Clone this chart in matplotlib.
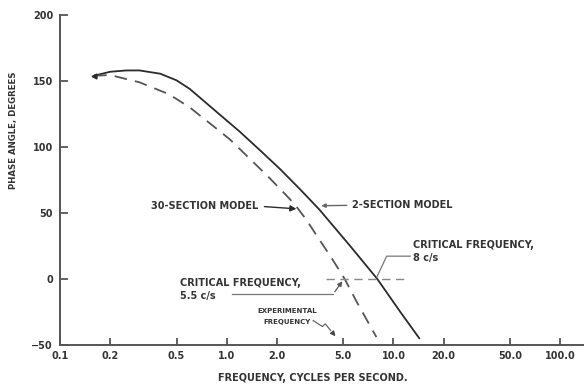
import matplotlib.pyplot as plt
import numpy as np

# 2-section model (solid)
freq_2sec = [0.16, 0.2, 0.25, 0.3, 0.4, 0.5, 0.6, 0.8, 1.2, 1.6, 2.1, 2.8, 3.6, 5.5, 8.0, 11.0, 14.3]
phase_2sec = [154, 157, 158, 158, 155.5, 150.5, 144, 130.5, 111.5, 97, 83, 67, 52.5, 25, 0, -25, -45]

# 30-section model (dashed)
freq_30sec = [0.16, 0.2, 0.3, 0.45, 0.6, 0.8, 1.05, 1.77, 2.1, 2.54, 3.0, 3.5, 4.2, 5.1, 6.0, 7.9]
phase_30sec = [154, 154.5, 149, 140, 130, 117.5, 105.5, 77.6, 68, 57, 45, 32, 17, 0, -17, -44]

xticks = [0.1, 0.2, 0.5, 1, 2, 5, 10, 20, 50, 100]
xtick_labels = ['0.1', '0.2', '0.5', '1.0', '2.0', '5.0', '10.0', '20.0', '50.0', '100.0']
yticks = [-50, 0, 50, 100, 150, 200]
ytick_labels = ['\u221250', '0', '50', '100', '150', '200']

ink = '#2b2b2b'
txt = '#333333'

fig = plt.figure(figsize=(5.84, 3.88), dpi=100)
fig.patch.set_facecolor('white')
ax = fig.add_axes([60/584, 43/388, 523/584, 330/388])
ax.set_xscale('log')
ax.set_xlim(0.1, 137)
ax.set_ylim(-50, 200)
for s in ['top', 'right']:
    ax.spines[s].set_visible(False)
for s in ['left', 'bottom']:
    ax.spines[s].set_color('#555555')
    ax.spines[s].set_linewidth(1.4)

ax.set_xticks(xticks)
ax.set_xticklabels(xtick_labels)
ax.minorticks_off()
ax.set_yticks(yticks)
ax.set_yticklabels(ytick_labels)
ax.tick_params(axis='both', direction='in', color='#555555', width=1.3, labelsize=7, labelcolor=txt)
ax.tick_params(axis='y', length=6, pad=5)
ax.tick_params(axis='x', length=5, pad=4)
for lab in ax.get_xticklabels() + ax.get_yticklabels():
    lab.set_fontweight('bold')

ax.plot(freq_2sec, phase_2sec, color=ink, linewidth=1.3, solid_capstyle='round')
ax.plot(freq_30sec, phase_30sec, color='#555555', linewidth=1.3, dashes=(7, 4.5))
# little pen-start hook at the left end of the curves
ax.plot(freq_2sec[0], phase_2sec[0], marker='<', markersize=3.5, color=ink)

# zero-phase reference (dashed)
ax.plot([3.95, 12.3], [0, 0], color='#888888', linewidth=1.0, dashes=(6, 4))

bold = dict(fontsize=7, fontweight='bold', color=txt)

# 30-section model label
ax.text(1.54, 55, '30-SECTION MODEL', ha='right', va='center', **bold)
ax.annotate('', xy=(2.72, 53), xytext=(1.62, 55),
            arrowprops=dict(arrowstyle='-|>', color=ink, lw=1.0, mutation_scale=9))

# 2-section model label
ax.text(5.63, 55.8, '2-SECTION MODEL', ha='left', va='center', **bold)
ax.annotate('', xy=(3.55, 55.5), xytext=(5.45, 55.8),
            arrowprops=dict(arrowstyle='-|>', color='#666666', lw=1.0, mutation_scale=6))

# critical frequency 8 c/s
ax.text(13.1, 25.6, 'CRITICAL FREQUENCY,', ha='left', va='center', **bold)
ax.text(13.1, 15.6, '8 c/s', ha='left', va='center', **bold)
ax.plot([12.6, 9.1, 7.95], [17.3, 17.3, 1.5], color='#777777', linewidth=0.9)

# critical frequency 5.5 c/s
ax.text(0.525, -3, 'CRITICAL FREQUENCY,', ha='left', va='center', **bold)
ax.text(0.525, -12.6, '5.5 c/s', ha='left', va='center', **bold)
ax.plot([1.07, 4.35], [-11.3, -11.3], color='#777777', linewidth=0.9)
ax.annotate('', xy=(5.05, 0), xytext=(4.35, -11.3),
            arrowprops=dict(arrowstyle='-|>', color='#555555', lw=0.9, mutation_scale=7))

# experimental frequency
small = dict(fontsize=5, fontweight='bold', color=txt)
ax.text(2.3, -24, 'EXPERIMENTAL', ha='center', va='center', **small)
ax.text(2.3, -32.4, 'FREQUENCY', ha='center', va='center', **small)
ax.plot([3.3, 3.75, 3.9, 4.2], [-31.5, -36, -34, -39], color='#666666', linewidth=0.9)
ax.annotate('', xy=(4.6, -45), xytext=(4.2, -39),
            arrowprops=dict(arrowstyle='-|>', color='#444444', lw=0.9, mutation_scale=7))

fig.text(14/584, 1 - 130/388, 'PHASE ANGLE, DEGREES', rotation=90, ha='center', va='center',
         fontsize=6.2, fontweight='bold', color=txt)
fig.text(313/584, 1 - 378/388, 'FREQUENCY, CYCLES PER SECOND.', ha='center', va='center', **bold)

fig.savefig('out.png', dpi=100, facecolor='white')
